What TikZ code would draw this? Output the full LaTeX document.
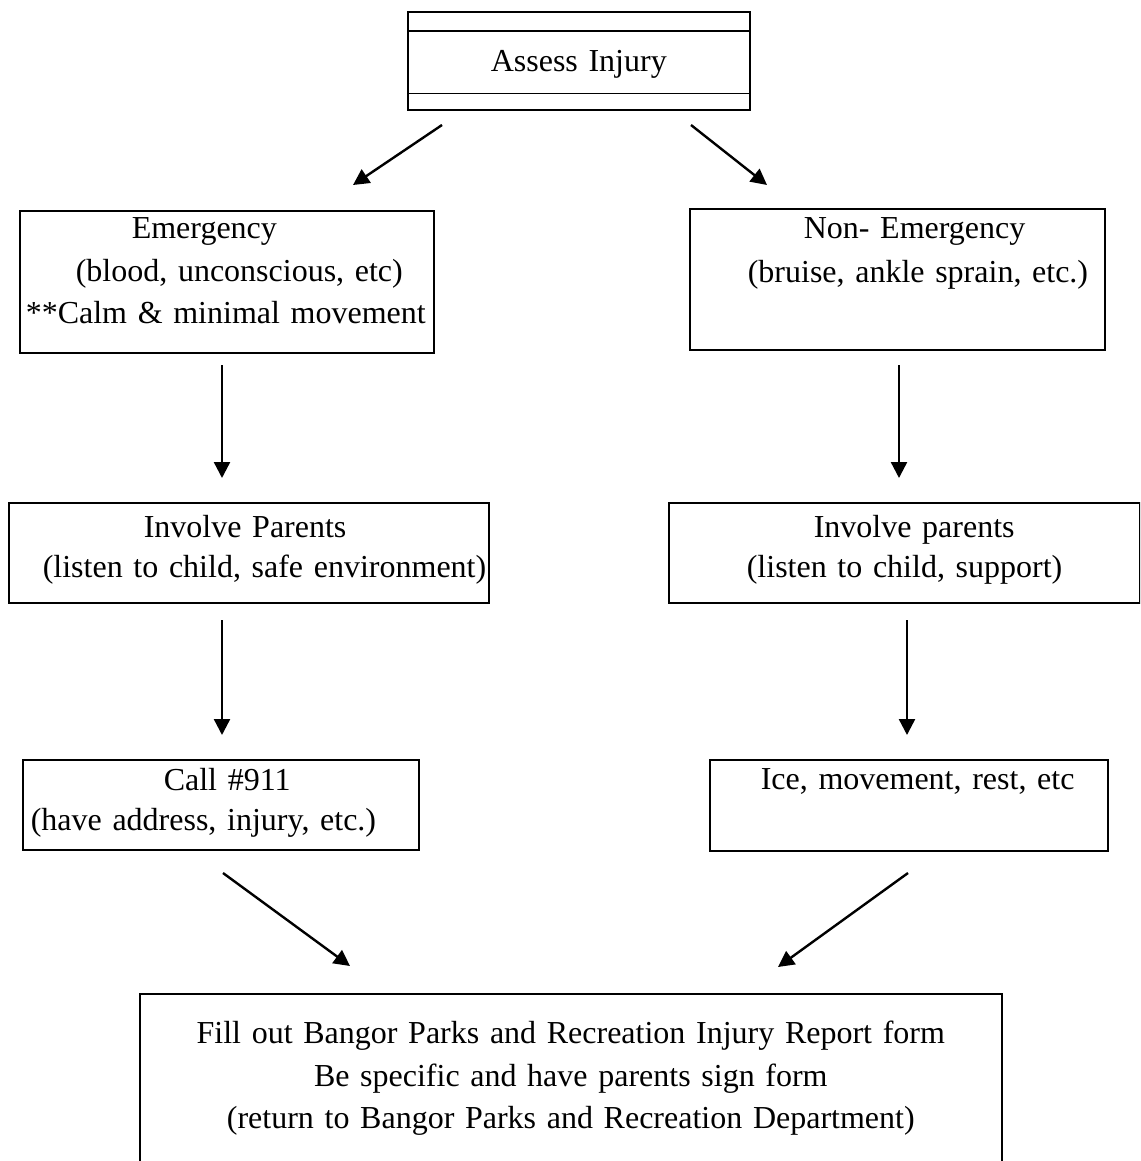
\documentclass[tikz,border=0pt]{standalone}
\usepackage{fontspec}
\setmainfont{Liberation Serif}
\usetikzlibrary{arrows.meta}
\newcommand\mywsp{\spaceskip=8pt\relax\xspaceskip=8pt\relax}
\begin{document}
\begin{tikzpicture}[x=1pt,y=-1pt,
  box/.style={draw, line width=1.6pt, inner sep=0pt, anchor=north west, align=left},
  f42/.style={font=\fontsize{32}{42.5}\selectfont\mywsp},
  f44/.style={font=\fontsize{32}{44}\selectfont\mywsp},
  f40/.style={font=\fontsize{32}{40}\selectfont\mywsp},
  arr/.style={line width=2.4pt, -{Triangle[length=16pt,width=16pt]}}]
\clip (0,0) rectangle (1140,1161);
\fill[white] (0,0) rectangle (1140,1161);

% boxes
\node[box, f42, align=center, text width=342pt, text height=60pt, text depth=38pt] (assess) at (407,11) {Assess Injury};
\draw[line width=1.6pt] ([yshift=-20pt]assess.north west) -- ([yshift=-20pt]assess.north east);
\draw[line width=1.6pt] ([yshift=17pt]assess.south west) -- ([yshift=17pt]assess.south east);

\node[box, f42, text width=414pt, text height=28pt, text depth=114pt] (emg) at (19,210)
  {\hspace*{112pt}Emergency\\\hspace*{56pt}(blood, unconscious, etc)\\\hspace*{6pt}**Calm \& minimal movement};
\node[box, f44, text width=415pt, text height=30pt, text depth=111pt] (non) at (689,208)
  {\hspace*{114pt}Non- Emergency\\\hspace*{58pt}(bruise, ankle sprain, etc.)};

\node[box, f40, text width=480pt, text height=35pt, text depth=65pt] (invL) at (8,502)
  {\hspace*{135pt}Involve Parents\\\hspace*{34pt}(listen to child, safe environment)};
\node[box, f40, text width=471pt, text height=35pt, text depth=65pt] (invR) at (668,502)
  {\hspace*{145pt}Involve parents\\\hspace*{78pt}(listen to child, support)};

\node[box, f40, text width=396pt, text height=31pt, text depth=59pt] (call) at (22,759)
  {\hspace*{141pt}Call \#911\\\hspace*{8pt}(have address, injury, etc.)};
\node[box, f40, text width=398pt, text height=30pt, text depth=61pt] (ice) at (709,759)
  {\hspace*{51pt}Ice, movement, rest, etc};

\node[box, f42, align=center, text width=862pt, text height=50pt, text depth=200pt] (report) at (139,993)
  {Fill out Bangor Parks and Recreation Injury Report form\\Be specific and have parents sign form\\(return to Bangor Parks and Recreation Department)};

% arrow end points
\coordinate (a1s) at (442,125); \coordinate (a1e) at (353,185);
\coordinate (a2s) at (691,125); \coordinate (a2e) at (767,185);
\coordinate (a3s) at (222,365); \coordinate (a3e) at (222,478);
\coordinate (a4s) at (899,365); \coordinate (a4e) at (899,478);
\coordinate (a5s) at (222,620); \coordinate (a5e) at (222,735);
\coordinate (a6s) at (907,620); \coordinate (a6e) at (907,735);
\coordinate (a7s) at (223,873); \coordinate (a7e) at (350,966);
\coordinate (a8s) at (908,873); \coordinate (a8e) at (778,967);

\draw[arr] (a1s) -- (a1e);
\draw[arr] (a2s) -- (a2e);
\draw[arr] (a3s) -- (a3e);
\draw[arr] (a4s) -- (a4e);
\draw[arr] (a5s) -- (a5e);
\draw[arr] (a6s) -- (a6e);
\draw[arr] (a7s) -- (a7e);
\draw[arr] (a8s) -- (a8e);
\end{tikzpicture}
\end{document}
